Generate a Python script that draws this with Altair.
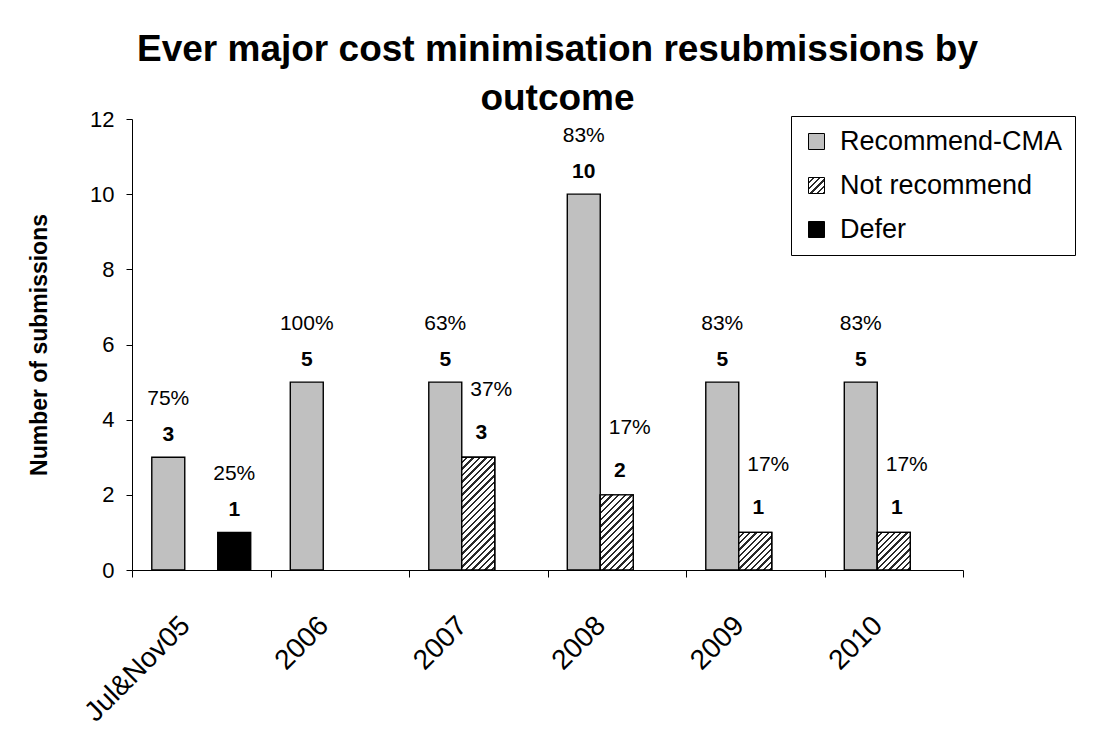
import math
import altair as alt
import pandas as pd

categories = ["Jul&Nov05", "2006", "2007", "2008", "2009", "2010"]
series = ["Recommend-CMA", "Not recommend", "Defer"]
recommend = [3, 5, 5, 10, 5, 5]
not_recommend = [0, 0, 3, 2, 1, 1]
defer = [1, 0, 0, 0, 0, 0]
pct_recommend = ["75%", "100%", "63%", "83%", "83%", "83%"]
pct_not = ["", "", "37%", "17%", "17%", "17%"]
pct_defer = ["25%", "", "", "", "", ""]
y_ticks = [0, 2, 4, 6, 8, 10, 12]

rows = []
for i, c in enumerate(categories):
    for s, vals, pcts in ((series[0], recommend, pct_recommend),
                          (series[1], not_recommend, pct_not),
                          (series[2], defer, pct_defer)):
        rows.append({"category": c, "series": s, "value": vals[i], "pct": pcts[i]})
df = pd.DataFrame(rows)
df = df[df["value"] > 0]

W, H = 831, 451
YMAX = 12
PAD_OUT = 0.6
BAR_W = W / len(categories) / (len(series) + 2 * PAD_OUT)
FONT = "Liberation Sans, Arial, Helvetica, sans-serif"
INK = "#2a2a2a"


def hatch_stops(w, h, period=4.6, ink=0.36):
    r = h / w
    n = max(1, round(w * (1 + r * r) / (period * math.sqrt(2))))
    stops = []
    for k in range(n):
        a = k / n
        b = (k + 1 - ink) / n
        c = (k + 1) / n
        stops += [(a, "#ffffff"), (b, "#ffffff"), (b, INK), (c, INK)]
    return r, stops


def hatch_gradient(w, h):
    r, stops = hatch_stops(w, h)
    return {"gradient": "linear", "x1": 0, "y1": 0, "x2": 1, "y2": r,
            "stops": [{"offset": o, "color": col} for o, col in stops]}


def hatch_expr(w, h):
    r, stops = hatch_stops(w, h, period=4.2)
    st = ",".join("{offset:%.5f,color:'%s'}" % (o, col) for o, col in stops)
    return "{gradient:'linear',x1:0,y1:0,x2:1,y2:%.5f,stops:[%s]}" % (r, st)


x_enc = alt.X("category:N", sort=categories,
              scale=alt.Scale(paddingInner=0, paddingOuter=0),
              axis=alt.Axis(title=None, labelAngle=-45, labelAlign="right",
                            labelBaseline="bottom", labelFontSize=28, labelFont=FONT,
                            labelColor="black", labelPadding=54, labelOffset=-6,
                            tickBand="extent",
                            tickSize=7, tickColor="black", domainColor="black",
                            labelLimit=400))
xo_enc = alt.XOffset("series:N", sort=series,
                     scale=alt.Scale(domain=series, paddingInner=0, paddingOuter=PAD_OUT))
y_enc = alt.Y("value:Q", scale=alt.Scale(domain=[0, YMAX], nice=False),
              axis=alt.Axis(values=y_ticks, title="Number of submissions",
                            titleFontSize=23, titleFont=FONT, titleFontWeight="bold",
                            titleColor="black", titlePadding=38,
                            labelFontSize=22, labelFont=FONT, labelColor="black",
                            tickSize=6, tickColor="black", domainColor="black",
                            labelPadding=12, grid=False))

color_range = ["#c0c0c0", {"expr": hatch_expr(16, 16)}, "#000000"]

base = alt.Chart(df)

bars = base.mark_bar(stroke="black", strokeWidth=1.4).encode(
    x=x_enc, xOffset=xo_enc, y=y_enc,
    color=alt.Color("series:N", sort=series,
                    scale=alt.Scale(domain=series, range=color_range),
                    legend=alt.Legend(title=None, orient="none", legendX=659, legendY=-3,
                                      labelFontSize=27, labelFont=FONT, labelColor="black",
                                      labelLimit=500,
                                      symbolType="square", symbolSize=256,
                                      symbolStrokeColor="black", symbolStrokeWidth=1,
                                      labelOffset=10, rowPadding=16, padding=12,
                                      strokeColor="black", fillColor="white",
                                      offset=0)),
)

hatch_layers = []
for v in sorted(set(v for v in not_recommend if v > 0)):
    hatch_layers.append(
        base.transform_filter(
            (alt.datum.series == series[1]) & (alt.datum.value == v)
        ).mark_bar(stroke="black", strokeWidth=1.4,
                   fill=hatch_gradient(BAR_W, v * H / YMAX)).encode(
            x=x_enc, xOffset=xo_enc, y=y_enc)
    )

is_not = alt.datum.series == series[1]
is_other = alt.datum.series != series[1]

value_labels = base.transform_filter(is_other).mark_text(
    fontSize=21, fontWeight="bold", font=FONT, color="black",
    baseline="middle", dy=-22).encode(
    x=x_enc, xOffset=xo_enc, y=y_enc, text=alt.Text("value:Q", format="d"))

value_labels_not = base.transform_filter(is_not).mark_text(
    fontSize=21, fontWeight="bold", font=FONT, color="black",
    baseline="middle", dy=-24, dx=3).encode(
    x=x_enc, xOffset=xo_enc, y=y_enc, text=alt.Text("value:Q", format="d"))

pct_labels = base.transform_filter(is_other).mark_text(
    fontSize=21, font=FONT, color="black", baseline="middle", dy=-58).encode(
    x=x_enc, xOffset=xo_enc, y=y_enc, text="pct:N")

pct_labels_not = base.transform_filter(is_not).mark_text(
    fontSize=21, font=FONT, color="black", baseline="middle", dy=-67, dx=13).encode(
    x=x_enc, xOffset=xo_enc, y=y_enc, text="pct:N")

chart = alt.layer(bars, *hatch_layers, value_labels, value_labels_not,
                  pct_labels, pct_labels_not).properties(
    width=W, height=H,
    title=alt.TitleParams(
        text=["Ever major cost minimisation resubmissions by", "outcome"],
        fontSize=37, fontWeight="bold", font=FONT, color="black",
        anchor="middle", frame="group", dx=10, offset=-10, lineHeight=49),
    autosize=alt.AutoSizeParams(type="none"),
    padding={"left": 124, "top": 111, "right": 131, "bottom": 162},
    background="white",
).configure_view(stroke=None)

chart.save("out.html", embed_options={"renderer": "svg", "actions": False})
